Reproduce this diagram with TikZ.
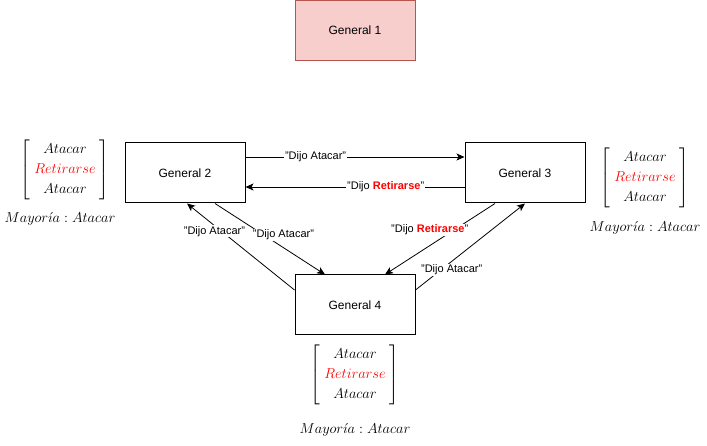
\documentclass[tikz,border=0pt]{standalone}
\usepackage{amsmath}
\usepackage{amssymb}
\usepackage{xcolor}
\usepackage{fontspec}
\setmainfont{Liberation Sans}
\usetikzlibrary{arrows.meta}
\definecolor{redfill}{HTML}{F8CECC}
\definecolor{redline}{HTML}{B85450}
\tikzset{
    general/.style={draw, line width=1pt, minimum width=120pt, minimum height=60pt,
        font=\fontsize{12}{14}\selectfont},
    msg/.style={-{Stealth[length=8pt, width=7pt, inset=2pt]}, line width=0.8pt},
    said/.style={fill=white, inner sep=1pt, font=\fontsize{11}{13}\selectfont},
    votes/.style={font=\fontsize{14.4}{17}\selectfont}
}
\newcommand{\votelist}{$\begin{bmatrix} Atacar\\[3pt] \;{\color{red}Retirarse}\;\\[3pt] Atacar \end{bmatrix}$}
\newcommand{\majority}{$Mayor\acute{\imath}a : Atacar$}

\begin{document}
\begin{tikzpicture}[x=1pt, y=-1pt]
    \useasboundingbox (0,0) rectangle (707,446);
    \node[general, fill=redfill, draw=redline] (g1) at (355,30.5) {General 1};
    \node[general] (g2) at (185,173) {General 2};
    \node[general] (g3) at (525,173) {General 3};
    \node[general] (g4) at (355,305) {General 4};

    \node[votes] (m2) at (65,170) {\votelist};
    \node[votes] (v2) at (60,219) {\majority};
    \node[votes] (m3) at (645,178) {\votelist};
    \node[votes] (v3) at (645,228) {\majority};
    \node[votes] (m4) at (355,375) {\votelist};
    \node[votes] (v4) at (355,430) {\majority};

    \draw[msg] ([yshift=16pt]g2.east) -- node[said, pos=0.32] {"Dijo Atacar"} ([yshift=16pt]g3.west);
    \draw[msg] ([yshift=-14pt]g3.west) -- node[said, pos=0.36] {"Dijo \textcolor{red}{\bfseries Retirarse}"} ([yshift=-14pt]g2.east);
    \draw[msg] ([yshift=15pt]g4.west) -- node[said, pos=0.68, xshift=-7pt] {"Dijo Atacar"} ([xshift=2pt]g2.south);
    \draw[msg] ([xshift=30pt]g2.south) -- node[said, pos=0.44, xshift=20pt] {"Dijo Atacar"} ([xshift=-30pt]g4.north);
    \draw[msg] ([xshift=-30pt]g3.south) -- node[said, pos=0.375, xshift=-24pt] {"Dijo \textcolor{red}{\bfseries Retirarse}"} ([xshift=30pt]g4.north);
    \draw[msg] ([yshift=15pt]g4.east) -- node[said, pos=0.23, xshift=11pt] {"Dijo Atacar"} (g3.south);
\end{tikzpicture}
\end{document}
